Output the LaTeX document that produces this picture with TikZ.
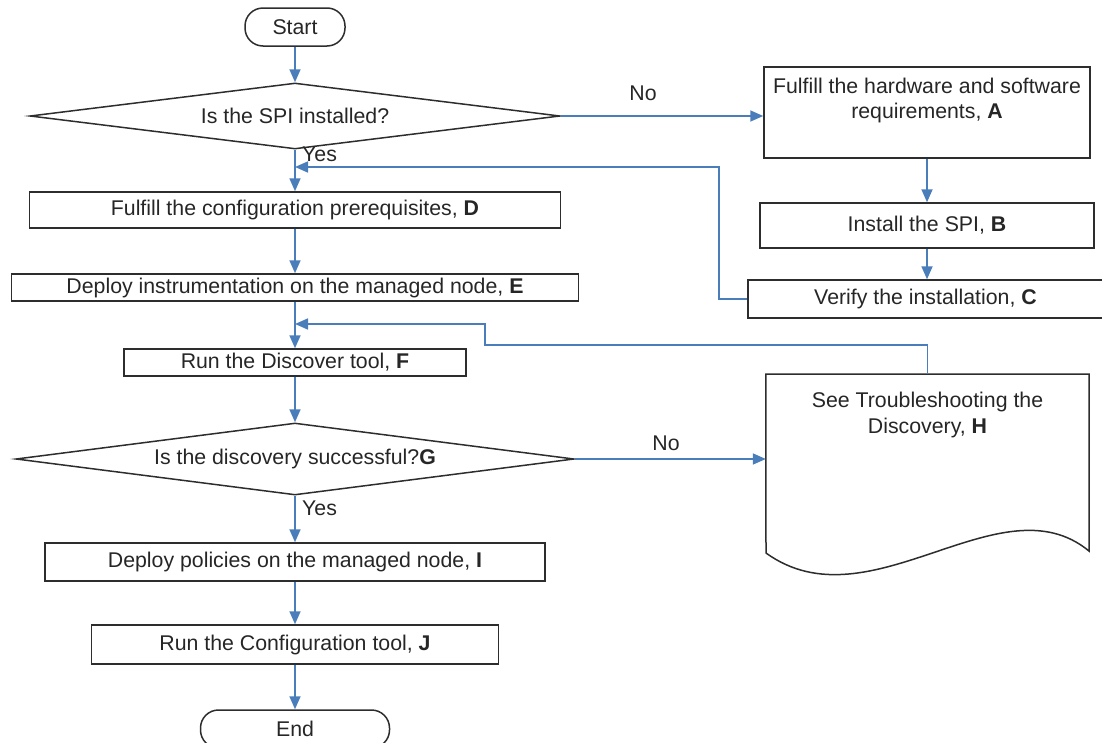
\documentclass[tikz,border=0pt]{standalone}
\usepackage{fontspec}
\setmainfont{Liberation Sans}
\usetikzlibrary{arrows.meta,shapes.geometric}
\definecolor{flowblue}{RGB}{74,126,187}
\definecolor{edgegray}{RGB}{45,45,45}
\definecolor{ink}{RGB}{38,38,38}
\begin{document}
\begin{tikzpicture}[x=1pt,y=-1pt,
  every node/.style={font=\fontsize{21.3}{25.6}\selectfont, text=ink, inner sep=0pt},
  stepbox/.style={draw=edgegray, line width=1.5pt, rectangle},
  termbox/.style={draw=edgegray, line width=1.5pt, rectangle, rounded corners=18pt},
  decide/.style={draw=edgegray, line width=1.5pt, diamond, aspect=8},
  flow/.style={draw=flowblue, line width=1.7pt, -{Triangle[length=13pt,width=11pt]}},
  lbl/.style={text=ink}
]
\useasboundingbox (0,0) rectangle (1102,742);

% main column
\node[termbox, minimum width=100pt, minimum height=38pt] (start) at (295,27) {Start};
\node[decide, minimum width=530pt, minimum height=66pt] (d1) at (295,116) {Is the SPI installed?};
\node[stepbox, minimum width=531pt, minimum height=36pt] (D) at (295,210) {Fulfill the configuration prerequisites, \textbf{D}};
\node[stepbox, minimum width=567pt, minimum height=27pt] (E) at (295,287.5) {Deploy instrumentation on the managed node, \textbf{E}};
\node[stepbox, minimum width=342pt, minimum height=27pt] (F) at (295,362.5) {Run the Discover tool, \textbf{F}};
\node[decide, minimum width=558pt, minimum height=72pt] (d2) at (295,459) {Is the discovery successful?\textbf{G}};
\node[stepbox, minimum width=500pt, minimum height=38pt] (I) at (295,562) {Deploy policies on the managed node, \textbf{I}};
\node[stepbox, minimum width=407pt, minimum height=39pt] (J) at (295,644.5) {Run the Configuration tool, \textbf{J}};
\node[termbox, minimum width=189pt, minimum height=38pt] (endn) at (295,729) {End};

% right column
\node[stepbox, minimum width=326pt, minimum height=91pt] (A) at (927,112.5)
  {\parbox[c][91pt][t]{326pt}{\centering\rule{0pt}{26pt}Fulfill the hardware and software\\requirements, \textbf{A}}};
\node[stepbox, minimum width=334pt, minimum height=45pt] (B) at (927,225.5) {Install the SPI, \textbf{B}};
\node[stepbox, minimum width=355pt, minimum height=38pt] (C) at (925.5,299) {Verify the installation, \textbf{C}};
\node[minimum width=323pt, minimum height=178pt, anchor=north] (H) at (927.5,374)
  {\parbox[c][178pt][t]{323pt}{\centering\rule{0pt}{33.6pt}See Troubleshooting the\\Discovery, \textbf{H}}};
\draw[draw=edgegray, line width=1.5pt] (H.north west) -- (H.north east) -- (1089,551)
  .. controls (1000,478) and (870,628) .. (766,553) -- cycle;

% junction points on the main line
\coordinate (j1) at (295,167);
\coordinate (j2) at (295,324);

% connectors
\draw[flow] (start) -- (d1);
\draw[flow] (d1.east) -- (d1.east -| A.west);
\node[lbl] (no1) at (643,93) {No};
\draw[flow] (A) -- (B);
\draw[flow] (B.south) -- (B.south |- C.north);
\draw[flow] (C.west) -- ++(-28,0) |- (j1);
\draw[flow] (d1.south) -- (D.north);
\node[lbl, anchor=west] (yes1) at (302,154) {Yes};
\draw[flow] (D) -- (E);
\draw[flow] (E) -- (F);
\draw[flow] (H.north) |- (485,345) |- (j2);
\draw[flow] (F) -- (d2);
\draw[flow] (d2.east) -- (d2.east -| H.west);
\node[lbl] (no2) at (666,443) {No};
\draw[flow] (d2.south) -- (I.north);
\node[lbl, anchor=west] (yes2) at (302,508) {Yes};
\draw[flow] (I) -- (J);
\draw[flow] (J) -- (endn);
\end{tikzpicture}
\end{document}
